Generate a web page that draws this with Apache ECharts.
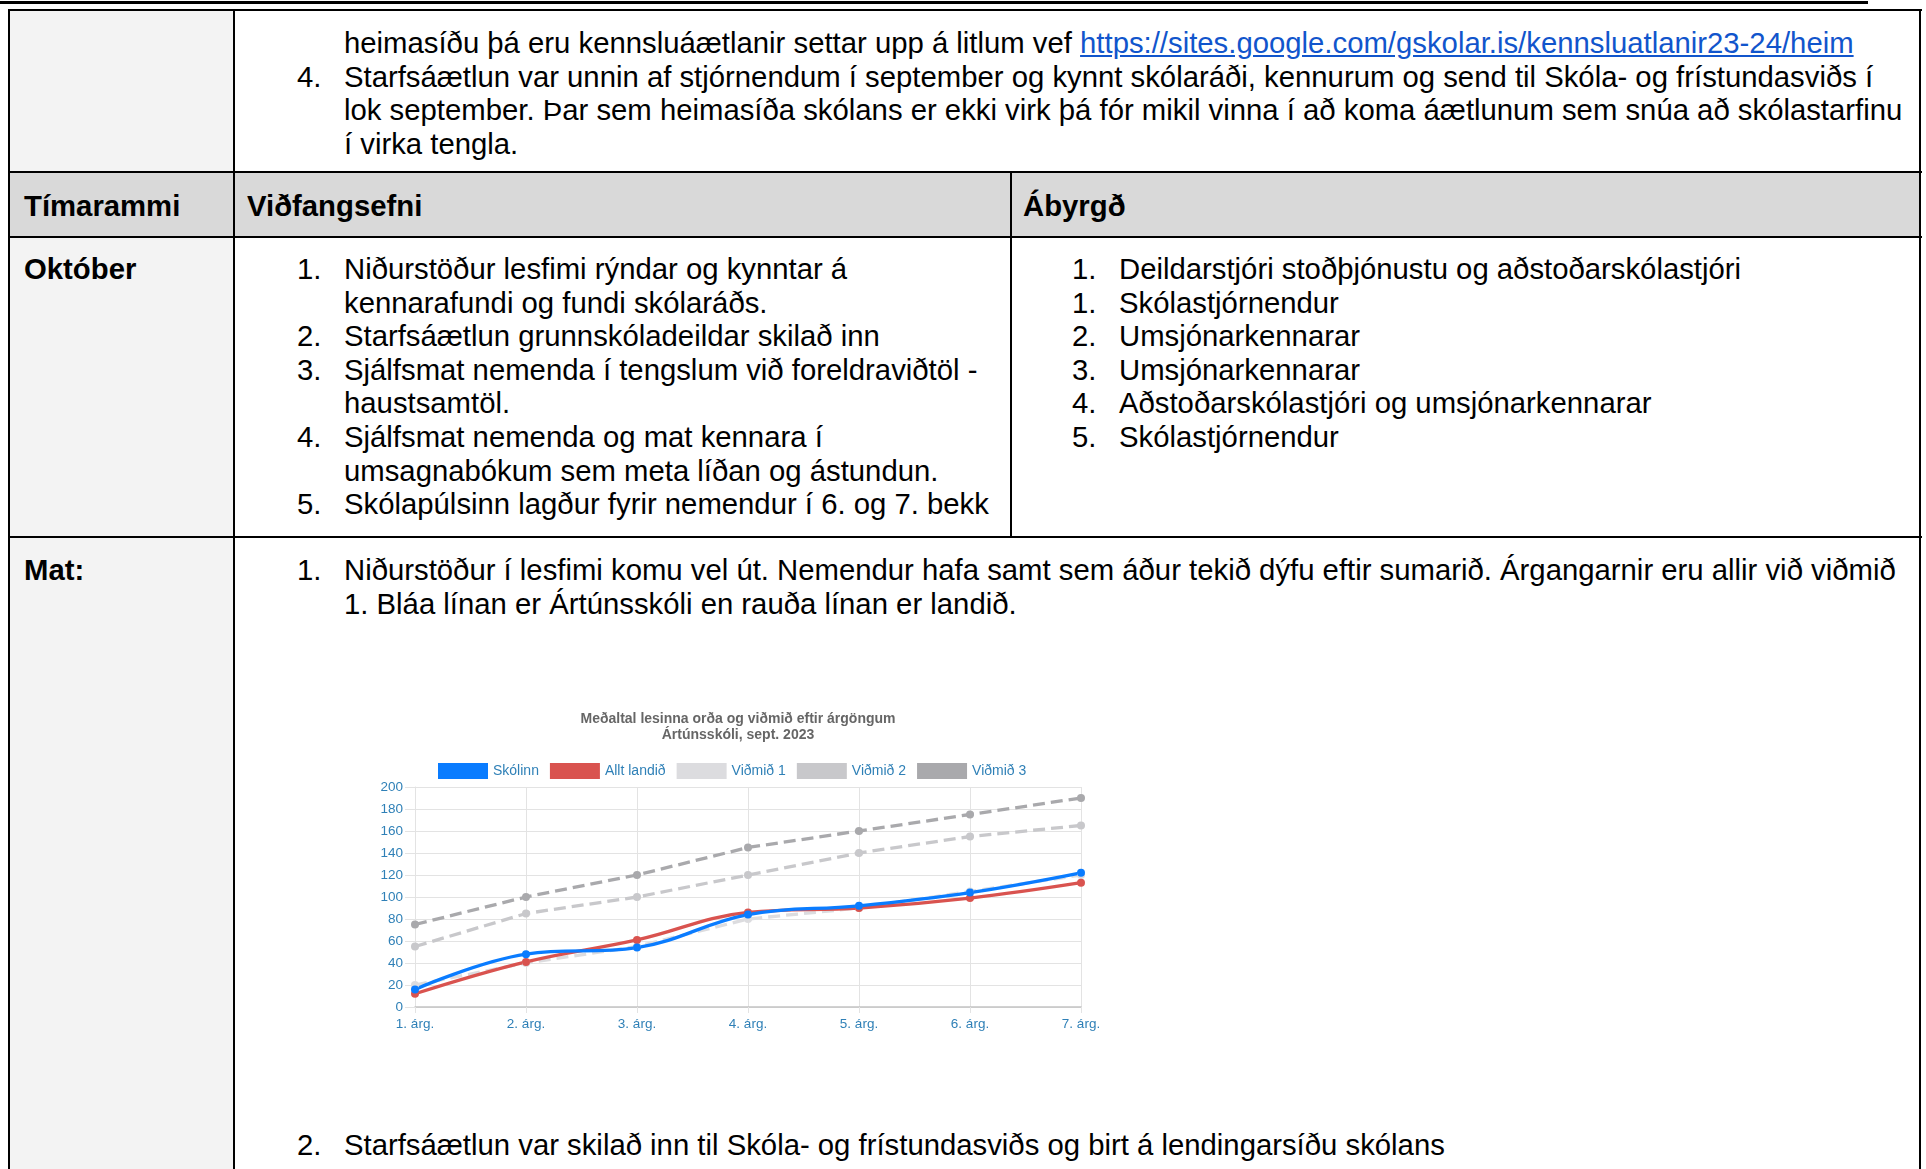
<!DOCTYPE html>
<html>
<head>
<meta charset="utf-8">
<script src="https://cdn.jsdelivr.net/npm/echarts@6.0.0/dist/echarts.min.js"></script>
<style>
  body { margin: 0; background: #fff; font-family: "Liberation Sans", Arial, sans-serif; font-size: 29.3px; line-height: 33.6px; color: #000; }
  .bx { position: absolute; }
  .hl { position: absolute; background: #000; height: 2px; }
  .vl { position: absolute; background: #000; width: 2px; }
  .cell { position: absolute; white-space: nowrap; }
  .ol > div { position: relative; padding-left: 47px; }
  .ol > div > span.n { position: absolute; left: 0; }
  a { color: #1155cc; text-decoration: underline; }
  #chart { position: absolute; left: 370px; top: 700px; width: 736px; height: 345px; }
</style>
</head>
<body>
<!-- bakgrunnar -->
<div class="bx" style="left:8px;top:9px;width:226px;height:1160px;background:#f3f3f3"></div>
<div class="bx" style="left:8px;top:172px;width:1912px;height:65px;background:#d9d9d9"></div>

<!-- línur -->
<div class="bx" style="left:0;top:1px;width:1868px;height:3px;background:#000"></div>
<div class="hl" style="left:8px;top:9px;width:1914px"></div>
<div class="hl" style="left:8px;top:171px;width:1914px"></div>
<div class="hl" style="left:8px;top:236px;width:1914px"></div>
<div class="hl" style="left:8px;top:536px;width:1914px"></div>
<div class="vl" style="left:8px;top:9px;height:1160px"></div>
<div class="vl" style="left:233px;top:9px;height:1160px"></div>
<div class="vl" style="left:1010px;top:171px;height:366px"></div>
<div class="vl" style="left:1919px;top:9px;height:1160px"></div>

<!-- efsta röð -->
<div class="cell ol" style="left:297px;top:26px">
  <div>heimasíðu þá eru kennsluáætlanir settar upp á litlum vef <a>https://sites.google.com/gskolar.is/kennsluatlanir23-24/heim</a></div>
  <div><span class="n">4.</span>Starfsáætlun var unnin af stjórnendum í september og kynnt skólaráði, kennurum og send til Skóla- og frístundasviðs í<br>lok september. Þar sem heimasíða skólans er ekki virk þá fór mikil vinna í að koma áætlunum sem snúa að skólastarfinu<br>í virka tengla.</div>
</div>

<!-- haus -->
<div class="cell" style="left:24px;top:189px;font-weight:bold">Tímarammi</div>
<div class="cell" style="left:247px;top:189px;font-weight:bold">Viðfangsefni</div>
<div class="cell" style="left:1023px;top:189px;font-weight:bold">Ábyrgð</div>

<!-- október -->
<div class="cell" style="left:24px;top:252px;font-weight:bold">Október</div>
<div class="cell ol" style="left:297px;top:252px">
  <div><span class="n">1.</span>Niðurstöður lesfimi rýndar og kynntar á<br>kennarafundi og fundi skólaráðs.</div>
  <div><span class="n">2.</span>Starfsáætlun grunnskóladeildar skilað inn</div>
  <div><span class="n">3.</span>Sjálfsmat nemenda í tengslum við foreldraviðtöl -<br>haustsamtöl.</div>
  <div><span class="n">4.</span>Sjálfsmat nemenda og mat kennara í<br>umsagnabókum sem meta líðan og ástundun.</div>
  <div><span class="n">5.</span>Skólapúlsinn lagður fyrir nemendur í 6. og 7. bekk</div>
</div>
<div class="cell ol" style="left:1072px;top:252px">
  <div><span class="n">1.</span>Deildarstjóri stoðþjónustu og aðstoðarskólastjóri</div>
  <div><span class="n">1.</span>Skólastjórnendur</div>
  <div><span class="n">2.</span>Umsjónarkennarar</div>
  <div><span class="n">3.</span>Umsjónarkennarar</div>
  <div><span class="n">4.</span>Aðstoðarskólastjóri og umsjónarkennarar</div>
  <div><span class="n">5.</span>Skólastjórnendur</div>
</div>

<!-- mat -->
<div class="cell" style="left:24px;top:553px;font-weight:bold">Mat:</div>
<div class="cell ol" style="left:297px;top:553px">
  <div><span class="n">1.</span>Niðurstöður í lesfimi komu vel út. Nemendur hafa samt sem áður tekið dýfu eftir sumarið. Árgangarnir eru allir við viðmið<br>1. Bláa línan er Ártúnsskóli en rauða línan er landið.</div>
</div>
<div class="cell ol" style="left:297px;top:1128px">
  <div><span class="n">2.</span>Starfsáætlun var skilað inn til Skóla- og frístundasviðs og birt á lendingarsíðu skólans</div>
</div>

<div id="chart"></div>

<script>
// gögn úr myndinni
const argangar = ['1. árg.', '2. árg.', '3. árg.', '4. árg.', '5. árg.', '6. árg.', '7. árg.'];
const skolinn = [16, 48, 54, 84, 92, 104, 122];
const alltLandid = [12, 41, 61, 86, 90, 99, 113];
const vidmid1 = [20, 40, 55, 80, 90, 105, 120];
const vidmid2 = [55, 85, 100, 120, 140, 155, 165];
const vidmid3 = [75, 100, 120, 145, 160, 175, 190];
const yMin = 0, yMax = 200, yStep = 20;

const blar = '#0a7cff', raudur = '#d9534f';
const grar1 = '#dcdcdf', grar2 = '#c8c8cb', grar3 = '#a9a9ac';
const merki = '#2f80b7';

function dashed(name, data, color) {
  return {
    name: name, type: 'line', data: data,
    symbol: 'circle', symbolSize: 8,
    lineStyle: { color: color, width: 3.3, type: [12, 6] },
    itemStyle: { color: color }
  };
}
function solid(name, data, color) {
  return {
    name: name, type: 'line', data: data, smooth: 0.4,
    symbol: 'circle', symbolSize: 8,
    lineStyle: { color: color, width: 3.3 },
    itemStyle: { color: color }
  };
}

const chart = echarts.init(document.getElementById('chart'));
chart.setOption({
  animation: false,
  textStyle: { fontFamily: 'Liberation Sans, Arial, sans-serif' },
  title: {
    text: 'Meðaltal lesinna orða og viðmið eftir árgöngum\nÁrtúnsskóli, sept. 2023',
    left: 'center', top: 6,
    textStyle: { fontSize: 14, fontWeight: 'bold', color: '#666', lineHeight: 16 }
  },
  legend: {
    left: 63, top: 58,
    itemWidth: 50, itemHeight: 16, itemGap: 11,
    icon: 'rect',
    itemStyle: { borderWidth: 0 },
    textStyle: { fontSize: 14, color: merki },
    data: ['Skólinn', 'Allt landið', 'Viðmið 1', 'Viðmið 2', 'Viðmið 3']
  },
  grid: { left: 45, right: 25, top: 87, bottom: 38 },
  xAxis: {
    type: 'category', boundaryGap: false, data: argangar,
    axisLine: { lineStyle: { color: '#c4c4c4', width: 1.5 } },
    axisTick: { show: true, length: 6, lineStyle: { color: '#e3e3e3' } },
    splitLine: { show: true, lineStyle: { color: '#e3e3e3' } },
    axisLabel: { color: merki, fontSize: 13.5, margin: 10 }
  },
  yAxis: {
    type: 'value', min: yMin, max: yMax, interval: yStep,
    axisLine: { show: true, lineStyle: { color: '#e3e3e3' } },
    axisTick: { show: true, length: 10, lineStyle: { color: '#e3e3e3' } },
    splitLine: { lineStyle: { color: '#e3e3e3' } },
    axisLabel: { color: merki, fontSize: 13.5, margin: 12 }
  },
  series: [
    dashed('Viðmið 3', vidmid3, grar3),
    dashed('Viðmið 2', vidmid2, grar2),
    dashed('Viðmið 1', vidmid1, grar1),
    solid('Allt landið', alltLandid, raudur),
    solid('Skólinn', skolinn, blar)
  ]
});
</script>
</body>
</html>
